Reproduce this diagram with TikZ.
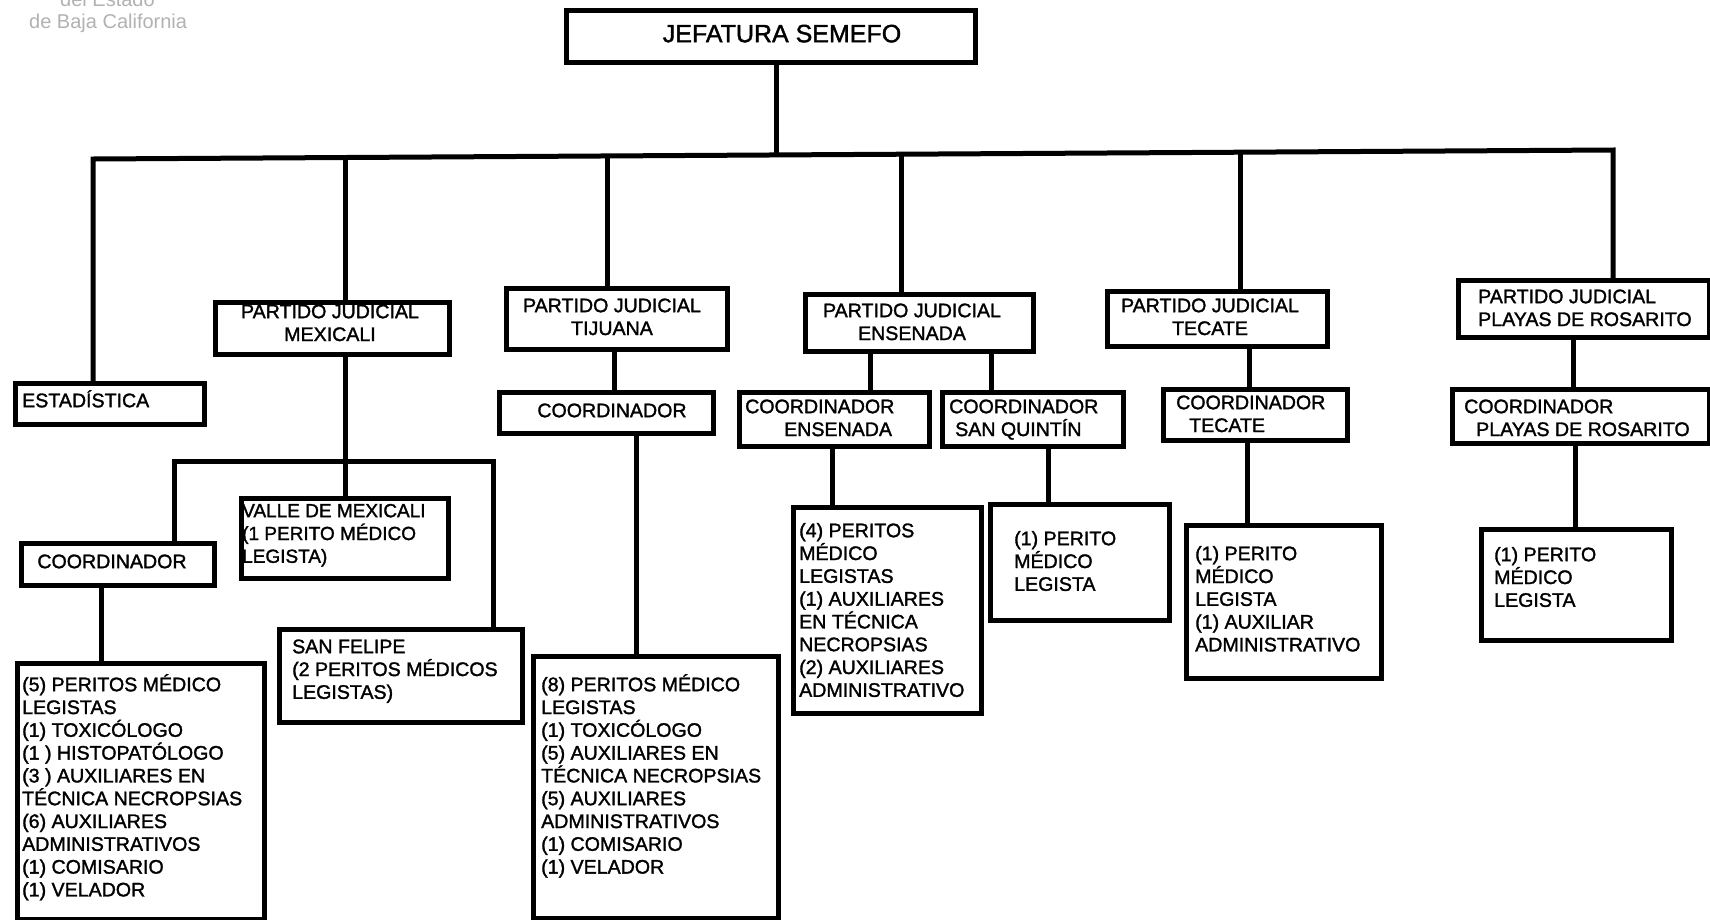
\documentclass[tikz,border=0pt]{standalone}
\usepackage{fontspec}
\setmainfont{Liberation Sans}
\newfontfamily\boxfont{Liberation Sans}[RawFeature={embolden=1.5}]
\newfontfamily\hdrfont{Liberation Sans}
\newcommand\fs{\boxfont\fontsize{19.6pt}{22.8pt}\selectfont}
\newcommand\st{\rule{0pt}{20pt}}
\tikzset{
 box/.style={draw, line width=5pt, rectangle, inner sep=0pt},
 wire/.style={line width=5pt, line join=miter},
 txt/.style={inner sep=0pt, anchor=north west, align=left, font=\fs},
 ctxt/.style={inner sep=0pt, anchor=north, align=center, font=\fs},
}
\newcommand\bx[5]{\node[box,anchor=north west,minimum width={(#4-#2)*1pt},minimum height={(#5-#3)*1pt}] (#1) at (#2,#3) {};}
\begin{document}
\begin{tikzpicture}[x=1pt,y=-1pt]
\useasboundingbox (0,0) rectangle (1710,919);
\fill[white] (0,0) rectangle (1710,919);
% header remnants
\node[inner sep=0, anchor=base west, text=gray!60, font=\hdrfont\fontsize{20pt}{24pt}\selectfont] (hdra) at (60,6) {del Estado};
\node[inner sep=0, anchor=base west, text=gray!60, font=\hdrfont\fontsize{20pt}{24pt}\selectfont] (hdrb) at (29,28) {de Baja California};
% boxes
\bx{jef}{564}{8}{973}{60}
\node[inner sep=0, anchor=north, font=\boxfont\fontsize{25pt}{28pt}\selectfont] (jeft) at (782,18) {\rule{0pt}{24pt}JEFATURA SEMEFO};
\bx{est}{13}{381}{202}{422}
\node[txt] (estt) at (22,387) {\st ESTADÍSTICA};
\bx{pjm}{213}{300}{447}{352}
\node[ctxt] (pjmt) at (330,298) {\st PARTIDO JUDICIAL\\MEXICALI};
\bx{pjt}{504}{286}{725}{347}
\node[ctxt] (pjtt) at (612,292) {\st PARTIDO JUDICIAL\\TIJUANA};
\bx{pje}{803}{292}{1031}{349}
\node[ctxt] (pjet) at (912,297) {\st PARTIDO JUDICIAL\\ENSENADA};
\bx{pjte}{1105}{289}{1325}{344}
\node[ctxt] (pjtet) at (1210,292) {\st PARTIDO JUDICIAL\\TECATE};
\bx{pjp}{1456}{278}{1707}{335}
\node[txt] (pjpt) at (1478,283) {\st PARTIDO JUDICIAL\\PLAYAS DE ROSARITO};
\bx{ct}{497}{390}{711}{431}
\node[ctxt] (ctt) at (612,397) {\st COORDINADOR};
\bx{ce}{737}{390}{927}{444}
\node[txt] (cet) at (745,393) {\st COORDINADOR\\\hspace*{39pt}ENSENADA};
\bx{csq}{940}{390}{1121}{444}
\node[txt] (csqt) at (949,393) {\st COORDINADOR\\\hspace*{6pt}SAN QUINTÍN};
\bx{cte}{1161}{387}{1345}{438}
\node[txt] (ctet) at (1176,389) {\st COORDINADOR\\\hspace*{13pt}TECATE};
\bx{cp}{1450}{387}{1707}{441}
\node[txt] (cpt) at (1464,393) {\st COORDINADOR\\\hspace*{12pt}PLAYAS DE ROSARITO};
\bx{cm}{19}{541}{212}{583}
\node[ctxt] (cmt) at (112,548) {\st COORDINADOR};
\bx{vm}{239}{496}{446}{576}
\node[txt, font=\boxfont\fontsize{19pt}{22.8pt}\selectfont] (vmt) at (242,497) {\st VALLE DE MEXICALI\\(1 PERITO MÉDICO\\LEGISTA)};
\bx{sf}{277}{627}{520}{720}
\node[txt] (sft) at (292,633) {\st SAN FELIPE\\(2 PERITOS MÉDICOS\\LEGISTAS)};
\bx{ms}{15}{661}{262}{917}
\node[txt] (mst) at (22,671) {\st (5) PERITOS MÉDICO\\LEGISTAS\\(1) TOXICÓLOGO\\(1 ) HISTOPATÓLOGO\\(3 ) AUXILIARES EN\\TÉCNICA NECROPSIAS\\(6) AUXILIARES\\ADMINISTRATIVOS\\(1) COMISARIO\\(1) VELADOR};
\bx{ts}{531}{654}{776}{916}
\node[txt] (tst) at (541,671) {\st (8) PERITOS MÉDICO\\LEGISTAS\\(1) TOXICÓLOGO\\(5) AUXILIARES EN\\TÉCNICA NECROPSIAS\\(5) AUXILIARES\\ADMINISTRATIVOS\\(1) COMISARIO\\(1) VELADOR};
\bx{es}{791}{505}{979}{711}
\node[txt] (est2) at (799,517) {\st (4) PERITOS\\MÉDICO\\LEGISTAS\\(1) AUXILIARES\\EN TÉCNICA\\NECROPSIAS\\(2) AUXILIARES\\ADMINISTRATIVO};
\bx{sqs}{988}{502}{1167}{618}
\node[txt] (sqst) at (1014,525) {\st (1) PERITO\\MÉDICO\\LEGISTA};
\bx{tes}{1184}{523}{1379}{676}
\node[txt] (test) at (1195,540) {\st (1) PERITO\\MÉDICO\\LEGISTA\\(1) AUXILIAR\\ADMINISTRATIVO};
\bx{ps}{1479}{527}{1669}{638}
\node[txt] (pst) at (1494,541) {\st (1) PERITO\\MÉDICO\\LEGISTA};
% main bus (slightly tilted as in the scan)
\coordinate (bl) at (93,159);
\coordinate (bm) at (345,157.5);
\coordinate (bt) at (607,156);
\coordinate (b0) at (776,155);
\coordinate (be) at (901,154.2);
\coordinate (bte) at (1240,152.2);
\coordinate (br) at (1613,150);
\draw[wire] (est.north -| bl) -- (bl) -- (br) -- (pjp.north -| br);
\draw[wire] (jef.south -| b0) -- (b0);
\draw[wire] (bm) -- (pjm.north -| bm);
\draw[wire] (bt) -- (pjt.north -| bt);
\draw[wire] (be) -- (pje.north -| be);
\draw[wire] (bte) -- (pjte.north -| bte);
% Mexicali
\coordinate (ml) at (174,461);
\coordinate (mc) at (345,461);
\coordinate (mr) at (493,461);
\draw[wire] (pjm.south -| mc) -- (vm.north -| mc);
\draw[wire] (cm.north -| ml) -- (ml) -- (mr) -- (sf.north -| mr);
\coordinate (xcm) at (101,0);
\draw[wire] (cm.south -| xcm) -- (ms.north -| xcm);
% Tijuana
\coordinate (xt1) at (614,0);
\coordinate (xt2) at (636,0);
\draw[wire] (pjt.south -| xt1) -- (ct.north -| xt1);
\draw[wire] (ct.south -| xt2) -- (ts.north -| xt2);
% Ensenada
\coordinate (xe1) at (870,0);
\coordinate (xe2) at (991,0);
\coordinate (xe3) at (832,0);
\coordinate (xe4) at (1048,0);
\draw[wire] (pje.south -| xe1) -- (ce.north -| xe1);
\draw[wire] (pje.south -| xe2) -- (csq.north -| xe2);
\draw[wire] (ce.south -| xe3) -- (es.north -| xe3);
\draw[wire] (csq.south -| xe4) -- (sqs.north -| xe4);
% Tecate
\coordinate (xte1) at (1249,0);
\coordinate (xte2) at (1247,0);
\draw[wire] (pjte.south -| xte1) -- (cte.north -| xte1);
\draw[wire] (cte.south -| xte2) -- (tes.north -| xte2);
% Playas
\coordinate (xp1) at (1573,0);
\coordinate (xp2) at (1575,0);
\draw[wire] (pjp.south -| xp1) -- (cp.north -| xp1);
\draw[wire] (cp.south -| xp2) -- (ps.north -| xp2);
\end{tikzpicture}
\end{document}
